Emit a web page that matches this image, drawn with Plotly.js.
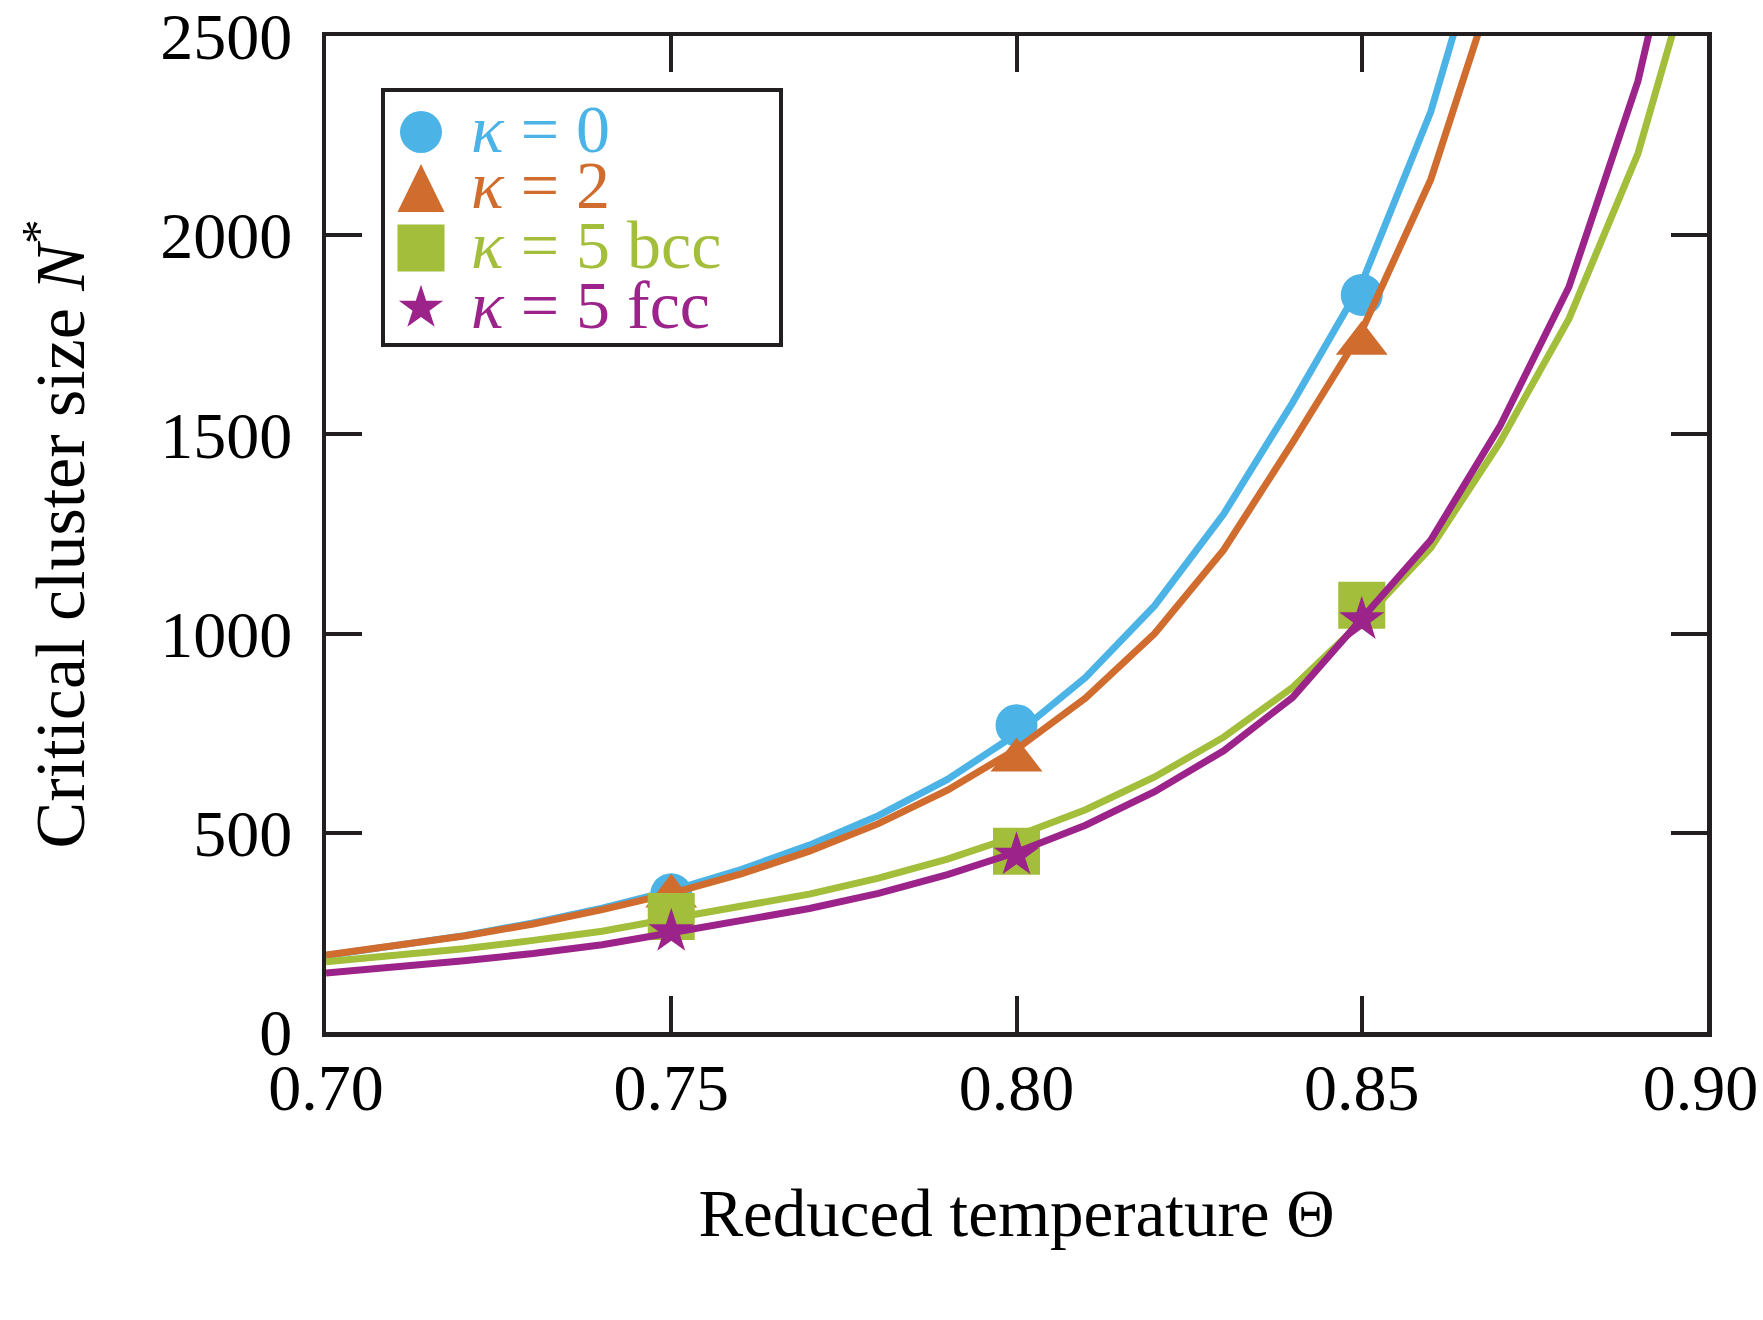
<!DOCTYPE html>
<html><head><meta charset="utf-8">
<script src="https://cdn.plot.ly/plotly-3.0.1.min.js"></script>
<style>html,body{margin:0;padding:0;background:#fff;}</style>
</head><body>
<div id="chart" style="width:1763px;height:1320px;"></div>
<script>
// ---- data ----
const thetaK0 = [0.70,0.71,0.72,0.73,0.74,0.75,0.76,0.77,0.78,0.79,0.80,0.81,0.82,0.83,0.84,0.85,0.86,0.87];
const curveK0 = [192,215,242,274,311,355,407,469,543,634,748,890,1070,1300,1580,1880,2310,2900];
const thetaK2 = [0.70,0.71,0.72,0.73,0.74,0.75,0.76,0.77,0.78,0.79,0.80,0.81,0.82,0.83,0.84,0.85,0.86,0.87];
const curveK2 = [193,215,241,271,307,348,396,454,523,607,710,838,1000,1210,1480,1760,2140,2674];
const thetaK5 = [0.70,0.71,0.72,0.73,0.74,0.75,0.76,0.77,0.78,0.79,0.80,0.81,0.82,0.83,0.84,0.85,0.86,0.87,0.88,0.89,0.90];
const curveK5bcc = [176,192,209,230,253,285,314,346,386,434,492,558,640,740,865,1030,1215,1480,1790,2205,2807];
const curveK5fcc = [148,162,179,197,219,249,278,310,348,395,451,519,603,706,840,1035,1235,1520,1870,2387,3132];

const thetaSim = [0.75, 0.80, 0.85];
const simK0 = [346, 770, 1850];
const simK2 = [341, 682, 1728];
const simK5bcc = [290, 454, 1071];
const simK5fcc = [252, 444, 1035];

const seriesNames = ["<i>κ</i> = 0", "<i>κ</i> = 2", "<i>κ</i> = 5 bcc", "<i>κ</i> = 5 fcc"];
const xTickVals = [0.70, 0.75, 0.80, 0.85, 0.90];
const xTickText = ["0.70", "0.75", "0.80", "0.85", "0.90\u2009"];
const yTickVals = [0, 500, 1000, 1500, 2000, 2500];
const yTickText = ["0", "500", "1000", "1500", "2000", "2500"];

// ---- style ----
const colors = ["#4BB3E5", "#D06C2E", "#A2BE3A", "#9C238A"];
const symbols = ["circle", "triangle-up", "square", "star"];
const msizes = [42, 45, 47, 34];
const FONT = "Liberation Serif, Times New Roman, serif";
const INK = "#231F20";

const curves = [[thetaK0, curveK0], [thetaK2, curveK2], [thetaK5, curveK5bcc], [thetaK5, curveK5fcc]];
const sims = [simK0, simK2, simK5bcc, simK5fcc];

const traces = [];
for (let i = 0; i < 4; i++) {
  traces.push({
    x: curves[i][0], y: curves[i][1], type: "scatter", mode: "lines",
    line: {color: colors[i], width: 7}, name: seriesNames[i], showlegend: false, hoverinfo: "skip"
  });
  traces.push({
    x: thetaSim, y: sims[i], type: "scatter", mode: "markers",
    marker: {color: colors[i], symbol: symbols[i], size: msizes[i], line: {width: 0}},
    name: seriesNames[i], showlegend: false, hoverinfo: "skip"
  });
}

// ---- hand-built legend (box, symbols, labels) ----
const W = 1763, H = 1320;
const L = 326, R = 56, T = 36, B = 288;
const pw = W - L - R, ph = H - T - B;
const px2x = p => (p - L) / pw;
const py2y = p => (H - B - p) / ph;

const shapes = [{
  type: "rect", xref: "paper", yref: "paper",
  x0: px2x(383), x1: px2x(781), y0: py2y(345), y1: py2y(90),
  line: {color: INK, width: 4}, fillcolor: "rgba(0,0,0,0)", layer: "above"
}];
const symX = px2x(421);
const rowY = [132, 188, 248, 308];
shapes.push({type: "circle", xref: "paper", yref: "paper", xsizemode: "pixel", ysizemode: "pixel",
  xanchor: symX, yanchor: py2y(rowY[0]), x0: -21, x1: 21, y0: -21, y1: 21,
  fillcolor: colors[0], line: {width: 0}, layer: "above"});
shapes.push({type: "path", xref: "paper", yref: "paper", xsizemode: "pixel", ysizemode: "pixel",
  xanchor: symX, yanchor: py2y(rowY[1]), path: "M-23.5,-24 L23.5,-24 L0,24 Z",
  fillcolor: colors[1], line: {width: 0}, layer: "above"});
shapes.push({type: "rect", xref: "paper", yref: "paper", xsizemode: "pixel", ysizemode: "pixel",
  xanchor: symX, yanchor: py2y(rowY[2]), x0: -23.5, x1: 23.5, y0: -23.5, y1: 23.5,
  fillcolor: colors[2], line: {width: 0}, layer: "above"});
shapes.push({type: "path", xref: "paper", yref: "paper", xsizemode: "pixel", ysizemode: "pixel",
  xanchor: symX, yanchor: py2y(rowY[3]),
  path: "M0,23.3 L5.23,7.2 L22.16,7.2 L8.46,-2.75 L13.7,-18.85 L0,-8.9 L-13.7,-18.85 L-8.46,-2.75 L-22.16,7.2 L-5.23,7.2 Z",
  fillcolor: colors[3], line: {width: 0}, layer: "above"});

const annotations = [];
for (let i = 0; i < 4; i++) {
  annotations.push({
    xref: "paper", yref: "paper", x: px2x(469), y: py2y(rowY[i] - 3),
    xanchor: "left", yanchor: "middle", showarrow: false,
    text: seriesNames[i], font: {family: FONT, size: 68, color: colors[i]}
  });
}

const axisCommon = {
  showline: true, linecolor: INK, linewidth: 4.5, mirror: "ticks",
  ticks: "inside", ticklen: 36, tickwidth: 4, tickcolor: INK,
  showgrid: false, zeroline: false, fixedrange: true,
  ticklabeloverflow: "allow",
  tickfont: {family: FONT, size: 66, color: "#000"}
};

const layout = {
  width: W, height: H,
  margin: {l: L, r: R, t: T, b: B, pad: 0},
  paper_bgcolor: "#fff", plot_bgcolor: "#fff",
  showlegend: false, hovermode: false,
  font: {family: FONT, color: "#000"},
  xaxis: Object.assign({}, axisCommon, {
    range: [0.70, 0.90], tickmode: "array", tickvals: xTickVals, ticktext: xTickText,
    ticklabelstandoff: -6, automargin: false,
    title: {text: "Reduced temperature Θ", font: {family: FONT, size: 67, color: "#000"}, standoff: 68}
  }),
  yaxis: Object.assign({}, axisCommon, {
    range: [0, 2500], tickmode: "array", tickvals: yTickVals, ticktext: yTickText,
    ticklabelstandoff: 16, automargin: false,
    title: {text: "\u00a0Critical cluster size <i>N</i><sup>*</sup>", font: {family: FONT, size: 70, color: "#000"}, standoff: 54}
  }),
  shapes: shapes,
  annotations: annotations
};

Plotly.newPlot("chart", traces, layout, {displayModeBar: false, staticPlot: true});
</script>
</body></html>
